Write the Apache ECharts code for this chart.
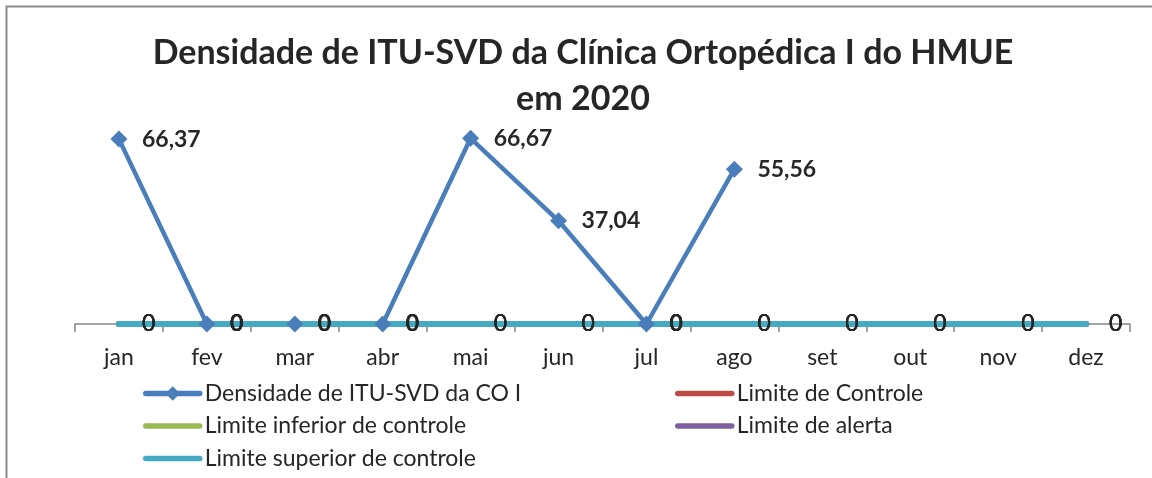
<!DOCTYPE html>
<html>
<head>
<meta charset="utf-8">
<script src="https://cdn.jsdelivr.net/npm/echarts@6/dist/echarts.min.js"></script>
<style>
  html, body { margin: 0; padding: 0; background: #fff; }
  #chart { width: 1152px; height: 478px; }
</style>
</head>
<body>
<div id="chart"></div>
<script>
// Months of 2020
const months = ['jan', 'fev', 'mar', 'abr', 'mai', 'jun', 'jul', 'ago', 'set', 'out', 'nov', 'dez'];

// Monthly density of ITU-SVD (CO I); months without data are null
const densidade = [66.37, 0, 0, 0, 66.67, 37.04, 0, 55.56, null, null, null, null];

// Control limits (all zero for the year)
const limiteControle = [0, 0, 0, 0, 0, 0, 0, 0, 0, 0, 0, 0];
const limiteInferior = [0, 0, 0, 0, 0, 0, 0, 0, 0, 0, 0, 0];
const limiteAlerta = [0, 0, 0, 0, 0, 0, 0, 0, 0, 0, 0, 0];
const limiteSuperior = [0, 0, 0, 0, 0, 0, 0, 0, 0, 0, 0, 0];

const FONT = 'Lato, "Noto Sans", sans-serif';
const TEXT = '#262626';
const fmt = p => String(p.value).replace('.', ',');

function limitSeries(name, color, data) {
  return {
    name: name,
    type: 'line',
    data: data,
    symbol: 'circle',
    symbolSize: 0,
    color: color,
    lineStyle: { width: 6, color: color, cap: 'round' },
    itemStyle: { color: color },
    label: {
      show: true,
      position: 'right',
      distance: 23,
      formatter: fmt,
      fontFamily: FONT,
      fontSize: 23,
      color: TEXT
    },
    emphasis: { disabled: true }
  };
}

function legendItem(name, hideSymbol) {
  const item = { name: name, lineStyle: { width: 5.5, cap: 'round' } };
  if (hideSymbol) item.itemStyle = { opacity: 0 };
  return item;
}

const legendText = { fontFamily: FONT, fontSize: 23, lineHeight: 22, color: TEXT };

const chart = echarts.init(document.getElementById('chart'), null, { renderer: 'canvas' });

chart.setOption({
  backgroundColor: '#fff',
  animation: false,
  title: {
    text: 'Densidade de ITU-SVD da Clínica Ortopédica I do HMUE\nem 2020',
    left: 578,
    top: 25,
    textAlign: 'center',
    textStyle: {
      fontFamily: FONT,
      fontWeight: 'bold',
      fontSize: 34,
      lineHeight: 46,
      color: TEXT
    }
  },
  legend: [
    {
      orient: 'vertical',
      left: 143,
      top: 382,
      height: 96,
      padding: 0,
      itemWidth: 54,
      itemHeight: 18,
      itemGap: 9.5,
      textStyle: legendText,
      data: [
        legendItem('Densidade de ITU-SVD da CO I', false),
        legendItem('Limite inferior de controle', true),
        legendItem('Limite superior de controle', true)
      ]
    },
    {
      orient: 'vertical',
      left: 675,
      top: 382,
      height: 96,
      padding: 0,
      itemWidth: 54,
      itemHeight: 18,
      itemGap: 9.5,
      textStyle: legendText,
      data: [
        legendItem('Limite de Controle', true),
        legendItem('Limite de alerta', true)
      ]
    }
  ],
  grid: { left: 75, right: 22, top: 129, bottom: 154, containLabel: false },
  xAxis: {
    type: 'category',
    data: months,
    boundaryGap: true,
    axisLine: { show: true, lineStyle: { color: '#868686', width: 1.5 } },
    axisTick: { show: true, length: 8, inside: false, lineStyle: { color: '#868686', width: 1.5 } },
    axisLabel: { fontFamily: FONT, fontSize: 23, color: TEXT, margin: 22 },
    splitLine: { show: false }
  },
  yAxis: {
    type: 'value',
    min: 0,
    max: 70,
    show: false,
    splitLine: { show: false }
  },
  series: [
    {
      name: 'Densidade de ITU-SVD da CO I',
      type: 'line',
      data: densidade,
      symbol: 'diamond',
      symbolSize: 17,
      color: '#4A7EBB',
      lineStyle: { width: 4.5, color: '#4A7EBB' },
      itemStyle: { color: '#4A7EBB' },
      connectNulls: false,
      label: {
        show: true,
        position: 'right',
        distance: 14.5,
        formatter: fmt,
        fontFamily: FONT,
        fontSize: 23,
        fontWeight: 'bold',
        color: TEXT
      },
      emphasis: { disabled: true }
    },
    limitSeries('Limite de Controle', '#BE4B48', limiteControle),
    limitSeries('Limite inferior de controle', '#98B954', limiteInferior),
    limitSeries('Limite de alerta', '#7D60A0', limiteAlerta),
    limitSeries('Limite superior de controle', '#46AAC5', limiteSuperior)
  ],
  graphic: [
    {
      type: 'polyline',
      shape: { points: [[6.5, 478], [6.5, 6.5], [1152, 6.5]] },
      style: { stroke: '#8C8C8C', lineWidth: 2, fill: null },
      silent: true
    }
  ]
});
</script>
</body>
</html>
